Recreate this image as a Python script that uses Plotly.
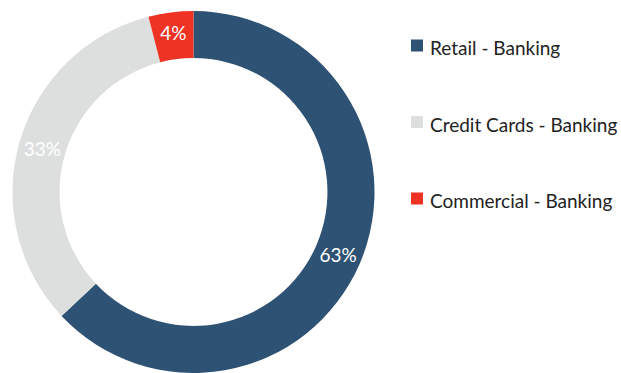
import plotly.graph_objects as go

# Revenue mix by banking segment
segments = ["Retail - Banking", "Credit Cards - Banking", "Commercial - Banking"]
shares = [63, 33, 4]
colors = ["#2E5273", "#DDDFDF", "#EE3325"]

W, H = 621, 373
FONT = "Lato"

fig = go.Figure(
    go.Pie(
        labels=segments,
        values=shares,
        sort=False,
        direction="clockwise",
        rotation=0,
        hole=0.74,
        marker=dict(colors=colors, line=dict(width=0)),
        texttemplate="%{value}%",
        textposition="inside",
        insidetextorientation="horizontal",
        textfont=dict(color="white", size=19, family=FONT),
        showlegend=False,
        domain=dict(x=[12 / W, 375 / W], y=[0, 1 - 11 / H]),
    )
)

# Legend drawn as swatches plus labels, evenly spaced down the right side
legend_top = 45.5
legend_step = 76.5
for i, (name, col) in enumerate(zip(segments, colors)):
    cy = legend_top + i * legend_step
    fig.add_shape(
        type="rect", xref="paper", yref="paper",
        x0=411 / W, x1=423 / W,
        y0=1 - (cy - 6) / H, y1=1 - (cy + 6) / H,
        fillcolor=col, line=dict(width=0),
    )
    fig.add_annotation(
        xref="paper", yref="paper",
        x=428 / W, y=1 - (cy + 2) / H,
        xanchor="left", yanchor="middle",
        text=name, showarrow=False,
        font=dict(size=19, color="#222222", family=FONT),
    )

fig.update_layout(
    width=W, height=H,
    margin=dict(l=0, r=0, t=0, b=0),
    paper_bgcolor="white",
    plot_bgcolor="white",
    uniformtext=dict(minsize=19, mode="show"),
)

fig.write_html("out.html")
